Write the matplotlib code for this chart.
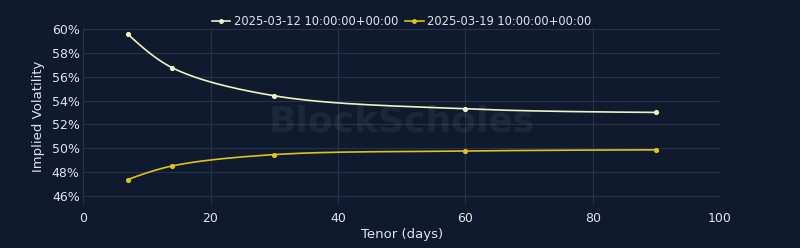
import numpy as np
import matplotlib.pyplot as plt
from matplotlib.ticker import FuncFormatter

# data
tenor = [7, 14, 30, 60, 90]
vol_0312 = [59.6, 56.75, 54.4, 53.3, 53.0]
vol_0319 = [47.35, 48.5, 49.45, 49.75, 49.85]
labels = ["2025-03-12 10:00:00+00:00", "2025-03-19 10:00:00+00:00"]
colors = ["#eef3c4", "#e2c11c"]

BG = "#0f1a2e"
GRID = "#26324a"
TXT = "#dfe4ee"


def bez(p0, p1, p2, p3=None, n=40):
    t = np.linspace(0, 1, n)[:, None]
    if p3 is None:
        return (1 - t)**2 * p0 + 2 * (1 - t) * t * p1 + t**2 * p2
    return (1 - t)**3 * p0 + 3 * (1 - t)**2 * t * p1 + 3 * (1 - t) * t**2 * p2 + t**3 * p3


def tangent(prev, cur, nxt, s=1.0):
    d1 = prev - cur
    d2 = nxt - cur
    d1a = np.hypot(*d1) ** 0.5
    d2a = np.hypot(*d2) ** 0.5
    num = (d2a * d2a * d1 - d1a * d1a * d2) * s
    den1 = 3 * d2a * (d1a + d2a)
    den2 = 3 * d1a * (d1a + d2a)
    return cur + num / den1, cur - num / den2


def spline(ax, x, y):
    # plotly-style catmull-rom curve, built in pixel space
    pts = ax.transData.transform(np.column_stack([x, y]))
    tg = [tangent(pts[i - 1], pts[i], pts[i + 1]) for i in range(1, len(pts) - 1)]
    segs = [bez(pts[0], tg[0][0], pts[1])]
    for i in range(2, len(pts) - 1):
        segs.append(bez(pts[i - 1], tg[i - 2][1], tg[i - 1][0], pts[i]))
    segs.append(bez(pts[-2], tg[-1][1], pts[-1]))
    return ax.transData.inverted().transform(np.vstack(segs))


fig = plt.figure(figsize=(8, 2.48), dpi=100, facecolor=BG)
ax = fig.add_axes([0.104, 0.173, 0.796, 0.714], facecolor=BG)
ax.set_xlim(0, 100)
ax.set_ylim(45.2, 60.1)

for vals, lab, c in zip([vol_0312, vol_0319], labels, colors):
    curve = spline(ax, tenor, vals)
    ax.plot(curve[:, 0], curve[:, 1], color=c, lw=1.2)
    ax.plot(tenor, vals, "o", color=c, ms=2.7)
    ax.plot([], [], "-o", color=c, lw=1.2, ms=2.5, label=lab)

ax.set_xticks([0, 20, 40, 60, 80, 100])
ax.set_yticks([46, 48, 50, 52, 54, 56, 58, 60])
ax.yaxis.set_major_formatter(FuncFormatter(lambda v, p: f"{v:.0f}%"))
ax.grid(True, color=GRID, lw=0.8)
ax.set_axisbelow(True)
for s in ax.spines.values():
    s.set_visible(False)
ax.tick_params(colors=TXT, labelsize=9, length=0)
ax.tick_params(axis="y", pad=2.5)
ax.tick_params(axis="x", pad=5)

ax.set_xlabel("Tenor (days)", color=TXT, fontsize=9.5, labelpad=2)
ax.set_ylabel("Implied Volatility", color=TXT, fontsize=9.5, labelpad=5)

ax.text(0.5, 0.47, "BlockScholes", transform=ax.transAxes, ha="center", va="center",
        fontsize=26, color="#ffffff", alpha=0.06, fontweight="bold")

leg = ax.legend(loc="center", bbox_to_anchor=(0.5, 1.035), ncol=2, frameon=False,
                fontsize=8.3, handlelength=1.6, columnspacing=0.6, handletextpad=0.3,
                borderpad=0)
for t in leg.get_texts():
    t.set_color(TXT)

fig.savefig("out.png", dpi=100, facecolor=BG)
